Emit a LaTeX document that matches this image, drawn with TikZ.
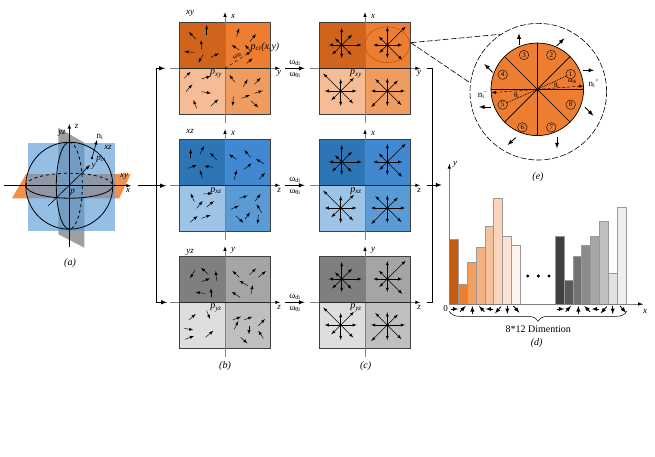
\documentclass[tikz,border=0pt]{standalone}
\usepackage{fontspec}
\setmainfont{Liberation Serif}
\usetikzlibrary{calc,shapes.geometric,decorations.pathreplacing}
\definecolor{xya}{HTML}{D0641C}
\definecolor{xyb}{HTML}{ED7D31}
\definecolor{xyc}{HTML}{F5BC95}
\definecolor{xyd}{HTML}{F09C60}
\definecolor{xza}{HTML}{2E75B6}
\definecolor{xzb}{HTML}{4288D0}
\definecolor{xzc}{HTML}{9DC3E6}
\definecolor{xzd}{HTML}{5B9BD5}
\definecolor{yza}{HTML}{7F7F7F}
\definecolor{yzb}{HTML}{A5A5A5}
\definecolor{yzc}{HTML}{DEDEDE}
\definecolor{yzd}{HTML}{BFBFBF}
\definecolor{sqblue}{HTML}{5B9BD5}
\newcommand{\hogstar}[2]{
  \fill #1 circle (1.5);
  \foreach \len [count=\k] in {#2}
    \draw[hogarrow] #1 -- ++({(\k-1)*45}:\len pt);
}
\begin{document}
\begin{tikzpicture}[
  x=1pt, y=-1pt,
  every node/.style={font=\small, inner sep=0pt},
  flow/.style={draw, line width=1pt, -latex},
  gradarrow/.style={draw, line width=0.45pt, -latex},
  hogarrow/.style={draw, line width=0.45pt, -latex},
  cellarrow/.style={draw, line width=0.9pt, -latex},
  planeaxis/.style={draw, gray, line width=0.7pt},
  planetip/.style={draw, line width=0.6pt, -latex},
  sphereline/.style={draw, line width=0.8pt},
  longdash/.style={dash pattern=on 6pt off 2pt},
  binbar/.style={draw=gray!80, line width=0.6pt},
  numcell/.style={circle, draw, line width=0.4pt, minimum size=9.5pt, font=\scriptsize}
]
\useasboundingbox (0,0) rectangle (655,457);

\fill[xyb!85!white] (26,174) -- (130.7,174) -- (119.3,198.3) -- (12,198.3) -- cycle;
\fill[gray!75] (58.3,127.7) -- (84.3,142.7) -- (84.3,247.7) -- (58.3,234.3) -- cycle;
\fill[sqblue, fill opacity=0.65] (27.7,143.3) rectangle (115,231);
\node[circle, draw, line width=0.8pt, minimum size=87pt] (sph) at (69.3,185.7) {};
\draw[sphereline] (25.8,185.7) arc[start angle=180, end angle=0, x radius=43.5, y radius=12.5];
\draw[sphereline, dashed] (25.8,185.7) arc[start angle=180, end angle=360, x radius=43.5, y radius=12.5];
\draw[sphereline] (69.3,142.2) arc[start angle=270, end angle=90, x radius=13, y radius=43.5];
\draw[sphereline, dashed] (69.3,142.2) arc[start angle=270, end angle=450, x radius=13, y radius=43.5];
\coordinate (axl) at (4,185.7);
\coordinate (axr) at (131,185.7);
\coordinate (azb) at (69.3,247);
\coordinate (azt) at (69.3,124);
\coordinate (ayb) at (48,206);
\coordinate (ayt) at (90,165);
\coordinate (pci) at (92,158);
\coordinate (nit) at (97,140);
\draw[planetip] (axl) -- (axr);
\draw[planetip] (azb) -- (azt);
\draw[planetip] (ayb) -- (ayt);
\fill (pci) circle (1.3);
\draw[planetip] (pci) -- (nit);
\node (lz) at (76.7,126.7) {\textit{z}};
\node (lni) at (100,136.7) {n\textsubscript{i}};
\node (lxzs) at (108,147) {\textit{xz}};
\node (lyzs) at (62,133) {\textit{yz}};
\node (lpci) at (101,159.5) {$\mathit{p}_{\mathit{ci}}$};
\node (ly) at (93.7,166) {\textit{y}};
\node (lxys) at (124,176.7) {\textit{xy}};
\node (lx) at (128,190.7) {\textit{x}};
\node (lp) at (72.7,192) {$\mathit{p}$};
\node[font=\normalsize] (capa) at (70,263) {\textit{(a)}};

\foreach \px/\col in {225/b,365/c} {
  \foreach \py/\pl/\ah/\ar in {68.3/xy/x/y,185.3/xz/x/z,302.3/yz/y/z} {
    \fill[\pl a] ({\px-45.7},{\py-45.7}) rectangle (\px,\py);
    \fill[\pl b] (\px,{\py-45.7}) rectangle ({\px+45.7},\py);
    \fill[\pl c] ({\px-45.7},\py) rectangle (\px,{\py+45.7});
    \fill[\pl d] (\px,\py) rectangle ({\px+45.7},{\py+45.7});
    \node[draw=black!75, line width=0.8pt, minimum size=91.4pt] (\col\pl) at (\px,\py) {};
    \draw[planeaxis] (\px,{\py+54.4}) -- (\px,{\py-54});
    \draw[planeaxis] ({\px-55},\py) -- ({\px+53},\py);
    \draw[planetip] (\px,{\py-54}) -- (\px,{\py-56});
    \draw[planetip] ({\px+53},\py) -- ({\px+55},\py);
    \draw[line width=0.8pt, black!85] ({\px-45.7},\py) -- ({\px+45.7},\py);
    \node at ({\px+8},{\py-52}) {\textit{\ah}};
    \node at ({\px+54},{\py+5.5}) {\textit{\ar}};
    \node[font=\normalsize] at ({\px-9},{\py+5.5}) {$\mathit{p}_{\mathit{\pl}}$};
  }
}
\node (lxy) at (190,13) {\textit{xy}};
\node (lxz) at (190,131) {\textit{xz}};
\node (lyz) at (190,252) {\textit{yz}};
\node[font=\normalsize] (capb) at (225,366) {\textit{(b)}};
\node[font=\normalsize] (capc) at (365.7,366) {\textit{(c)}};

\foreach \pl in {xy,xz,yz} {
  \draw[flow] ([xshift=14.3pt]b\pl.east) -- ([xshift=-14.3pt]c\pl.west)
    node[pos=0.5, above=2.5pt] {ω\textsubscript{di}}
    node[pos=0.5, below=3.5pt] {ω\textsubscript{θi}};
}

\coordinate (forkin) at (138,185.7);
\coordinate (forkmid) at (166,185.7);
\coordinate (forktop) at (156,68.3);
\coordinate (forkbot) at (156,302.3);
\coordinate (forktopend) at (165,68.3);
\coordinate (forkbotend) at (167,302.3);
\draw[line width=1pt] (forktop) -- (forkbot);
\draw[flow] (forkin) -- (forkmid);
\draw[flow] (forktop) -- (forktopend);
\draw[flow] (forkbot) -- (forkbotend);

\coordinate (joina) at (426.7,68.3);
\coordinate (joinb) at (432.7,68.3);
\coordinate (joinc) at (432.7,302.7);
\coordinate (joind) at (426.7,302.7);
\coordinate (joinin) at (427,185);
\coordinate (joinout) at (441.7,185);
\draw[line width=1pt] (joina) -- (joinb) -- (joinc) -- (joind);
\draw[flow] (joinin) -- (joinout);

\begin{scope}[shift={(150,0)}, scale=1/3]
\foreach \ax/\ay/\bx/\by in {
  170/105/170/75, 138/118/117/96, 155/148/153/120, 132/157/103/155, 160/163/145/188, 182/172/207/160,
  260/110/267/85, 300/125/318/102, 268/150/245/135, 303/155/285/135, 290/190/308/175,
  102/235/122/215, 155/237/182/228, 108/275/127/253, 155/275/183/280, 140/325/130/300, 183/318/205/298,
  255/247/238/225, 280/260/293/238, 313/253/332/233, 250/290/248/318, 275/295/300/285, 313/280/338/272, 303/303/325/322}
  \draw[gradarrow] (\ax,\ay) -- (\bx,\by);
\draw[gradarrow, dashed] (225,205) -- (302,155);
\node[rotate=33, font=\scriptsize] (ltheta) at (262,168) {ω\textsubscript{θi}};
\node[font=\normalsize] (lpxy) at (345,140) {$\mathit{p}_{\mathit{ci}}$\textit{(x,y)}};
\end{scope}

\begin{scope}[shift={(150,135)}, scale=1/3]
\foreach \ax/\ay/\bx/\by in {
  122/70/122/42, 150/57/162/33, 200/75/180/53, 115/100/140/90, 190/97/163/93, 157/130/150/105,
  260/73/237/58, 302/67/283/45, 343/87/318/72, 282/103/305/85, 253/133/260/105, 328/133/345/113,
  133/200/122/175, 160/177/187/175, 140/220/158/198, 170/216/192/198, 120/262/143/243, 155/250/182/240,
  268/190/293/182, 315/198/332/177, 242/223/267/212, 335/233/320/208, 325/240/323/267, 285/253/300/232, 258/243/280/263}
  \draw[gradarrow] (\ax,\ay) -- (\bx,\by);
\end{scope}

\begin{scope}[shift={(150,240)}, scale=1/3]
\foreach \ax/\ay/\bx/\by in {
  135/90/120/115, 175/103/153/83, 155/125/180/115, 200/122/197/93, 165/160/137/157, 183/172/183/145,
  268/112/247/92, 298/105/318/85, 325/112/348/93, 293/137/268/122, 303/162/308/135, 270/172/245/155,
  117/240/137/222, 170/212/180/237, 103/265/130/270, 105/298/132/288, 167/292/190/272,
  248/240/273/230, 282/240/307/230, 253/268/265/243, 297/258/297/283, 325/258/345/237, 272/292/292/310, 340/295/325/272}
  \draw[gradarrow] (\ax,\ay) -- (\bx,\by);
\end{scope}

\foreach \py in {68.3,185.3,302.3} {
  \hogstar{(341.7,{\py-23.3})}{20,14.6,17,9.5,13,13.5,13,14}
  \hogstar{(387.3,{\py-23.3})}{15,26,18,12,14,11.3,13,21}
  \hogstar{(340.7,{\py+22.7})}{16,18.7,12,24.7,16,13.2,15,17.7}
  \hogstar{(387.3,{\py+22.7})}{17.7,15,12.7,17,16.3,22.7,15,20}
}
\node[ellipse, draw=xya!80!black, line width=0.4pt, minimum width=44.6pt, minimum height=36pt] (cellsel) at (387.3,44.7) {};

\coordinate (zooma) at (410.7,42.7);
\coordinate (zoomb) at (500,34.3);
\coordinate (zoomc) at (470,82.7);
\draw[longdash, line width=0.6pt] (zooma) -- (zoomb);
\draw[longdash, line width=0.6pt] (zooma) -- (zoomc);

\node[circle, draw, longdash, line width=0.6pt, minimum size=136.6pt] (cellout) at (538.3,91.7) {};
\node[circle, draw, fill=xyb, line width=0.7pt, minimum size=92.6pt] (cellin) at (537.3,89.3) {};
\foreach \ang in {0,45,...,135}
  \draw[line width=0.6pt] (cellin.\ang) -- (cellin.{\ang+180});
\begin{scope}[shift={(450,0)}, scale=1/3]
\foreach \n/\zx/\zy in {1/362/222, 2/304/165, 3/222/165, 4/158/224, 5/158/314, 6/217/382, 7/304/382, 8/362/314}
  \node[numcell] (num\n) at (\zx,\zy) {\n};
\foreach \ax/\ay/\bx/\by in {398/211/432/211, 320/138/343/115, 207/135/207/100, 128/217/103/192,
  122/321/87/321, 197/413/173/435, 321/410/321/445, 405/322/430/347}
  \draw[cellarrow] (\ax,\ay) -- (\bx,\by);
\coordinate (nplus) at (400,258);
\coordinate (nminus) at (125,278);
\draw[hogarrow, densely dashed] (cellin.center) -- (nplus);
\draw[hogarrow, densely dashed] (cellin.center) -- (nminus);
\draw[line width=0.8pt, densely dotted] (cellin.center) -- (num1);
\draw[line width=0.8pt, densely dotted] (cellin.center) -- (num5);
\node[font=\scriptsize] (lomega) at (367,244) {ω\textsubscript{θi}};
\node[font=\scriptsize] (ltheti) at (320,258) {θ\textsubscript{i}};
\node[font=\scriptsize] (lthetj) at (200,286) {θ\textsubscript{i}};
\node (lnplus) at (432,250) {n\textsubscript{i}\textsuperscript{+}};
\node (lnminus) at (97,285) {n\textsubscript{i}\textsuperscript{-}};
\end{scope}
\node[font=\normalsize] (cape) at (538,177) {\textit{(e)}};

\begin{scope}[shift={(430,170)}, scale=1/3]
\foreach \bx/\bt/\bc in {58/208/C55A11, 85/342/ED7D31, 112/277/F19E5F, 139/232/F4B183, 165/169/F6C29B, 191/85/F9D3BA, 218/199/FBE2D2, 245/227/FEF3EC,
  375/199/404040, 402/330/595959, 429/259/737373, 455/227/8C8C8C, 482/199/A6A6A6, 508/154/BFBFBF, 535/310/E2E2E2, 562/112/EEEEEE} {
  \definecolor{barfill}{HTML}{\bc}
  \draw[binbar, fill=barfill] (\bx,\bt) rectangle ({\bx+27},402);
}
\foreach \ax/\ay/\bx/\by in {62/417/85/417, 90/425/107/408, 127/432/127/408, 163/425/147/408, 190/417/167/417, 213/410/195/430, 232/408/232/432, 250/408/268/428,
  380/417/403/417, 407/425/423/408, 445/432/445/408, 480/425/463/408, 508/417/485/417, 530/410/512/430, 548/408/548/432, 570/408/588/428}
  \draw[cellarrow] (\ax,\ay) -- (\bx,\by);
\foreach \zx in {293,325,357}
  \fill (\zx,318) circle (5);
\coordinate (hor) at (58,402);
\coordinate (hxe) at (638,402);
\coordinate (hye) at (58,-18);
\draw[planeaxis] (hor) -- (hxe);
\draw[planeaxis] (hor) -- (hye);
\draw[planetip] ($(hxe)+(-6,0)$) -- (hxe);
\draw[planetip] ($(hye)+(0,6)$) -- (hye);
\coordinate (bracer) at (590,424);
\coordinate (bracel) at (58,424);
\draw[line width=0.5pt, decorate, decoration={brace, amplitude=10pt}] (bracer) -- (bracel);
\node[font=\normalsize] (ldim) at (325,477) {8*12 Dimention};
\node[font=\normalsize] (capd) at (320,518) {\textit{(d)}};
\node (lhx) at (645,424) {\textit{x}};
\node (lhy) at (75,-18) {\textit{y}};
\node (lh0) at (47,415) {0};
\end{scope}
\end{tikzpicture}
\end{document}
